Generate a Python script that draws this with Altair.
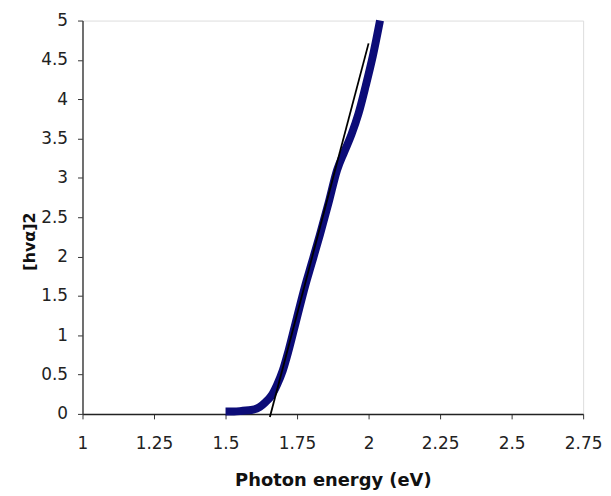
import altair as alt
import pandas as pd

# Measured curve ([hv*alpha]^2 vs photon energy)
energy = [1.50, 1.53, 1.56, 1.59, 1.62, 1.64, 1.66, 1.68, 1.70, 1.72, 1.75,
          1.78, 1.80, 1.83, 1.86, 1.89, 1.915, 1.94, 1.965, 1.99, 2.015, 2.04]
absorb = [0.03, 0.03, 0.04, 0.05, 0.09, 0.15, 0.23, 0.37, 0.55, 0.80, 1.23,
          1.65, 1.90, 2.28, 2.68, 3.10, 3.33, 3.55, 3.82, 4.17, 4.55, 5.00]

# Linear extrapolation (tangent) line
fit_energy = [1.655, 2.000]
fit_value = [-0.04, 4.71]

x_ticks = [1.0, 1.25, 1.5, 1.75, 2.0, 2.25, 2.5, 2.75]
y_ticks = [0.0, 0.5, 1.0, 1.5, 2.0, 2.5, 3.0, 3.5, 4.0, 4.5, 5.0]

curve = pd.DataFrame({"e": energy, "v": absorb})
fit = pd.DataFrame({"e": fit_energy, "v": fit_value})

FONT = "DejaVu Sans"

x_enc = alt.X(
    "e:Q",
    scale=alt.Scale(domain=[1, 2.75], nice=False, zero=False),
    axis=alt.Axis(
        values=x_ticks,
        labelExpr="'' + datum.value",
        labelOverlap=False,
        title="Photon energy (eV)",
        grid=False,
        labelFont=FONT, labelFontSize=17, labelColor="#222",
        labelPadding=17, labelFlush=False,
        tickSize=5, tickColor="#333", domainColor="#222", domainWidth=1.5,
        titleFont=FONT, titleFontSize=18, titleFontWeight="bold", titleColor="#111",
        titleX=252, titleY=72, titleBaseline="alphabetic", titleAlign="center",
    ),
)
y_enc = alt.Y(
    "v:Q",
    scale=alt.Scale(domain=[0, 5], nice=False, zero=False),
    axis=alt.Axis(
        values=y_ticks,
        tickCount=11,
        labelExpr="'' + datum.value",
        labelOverlap=False,
        title="[hvα]2",
        grid=False,
        labelFont=FONT, labelFontSize=17, labelColor="#222",
        labelPadding=10, labelFlush=False,
        tickSize=5, tickColor="#333", domainColor="#444", domainWidth=1.5,
        titleFont=FONT, titleFontSize=16, titleFontWeight="bold", titleColor="#111",
        titleX=-48, titleY=222, titleBaseline="alphabetic", titleAlign="center",
        titleAngle=270,
    ),
)

blue = alt.Chart(curve).mark_line(
    color="#0c0c78", strokeWidth=8, interpolate="monotone", strokeCap="butt"
).encode(x=x_enc, y=y_enc)

black = alt.Chart(fit).mark_line(color="#000000", strokeWidth=1.8, clip=False).encode(
    x=x_enc, y=y_enc
)

chart = (
    alt.layer(blue, black)
    .properties(
        width=504,
        height=396,
        autosize=alt.AutoSizeParams(type="none"),
        padding={"left": 75, "top": 11, "right": 20, "bottom": 80},
    )
    .configure_view(stroke=None)
    .configure(background="white")
)

chart.save("out.html", embed_options={"renderer": "svg", "actions": False})
